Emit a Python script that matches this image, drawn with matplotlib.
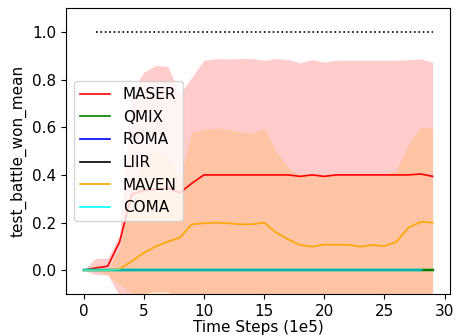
import matplotlib
matplotlib.use("Agg")
import matplotlib.pyplot as plt
import numpy as np

steps = np.arange(30)

# MASER
maser_mean = [0.0, 0.01, 0.017, 0.12, 0.32, 0.335, 0.34, 0.345, 0.325, 0.365,
              0.40, 0.40, 0.40, 0.40, 0.40, 0.40, 0.40, 0.40, 0.394, 0.40,
              0.394, 0.40, 0.40, 0.40, 0.40, 0.40, 0.40, 0.40, 0.404, 0.394]
maser_upper = [0.0, 0.05, 0.05, 0.15, 0.75, 0.83, 0.86, 0.855, 0.74, 0.81,
               0.881, 0.888, 0.886, 0.888, 0.888, 0.881, 0.888, 0.884, 0.870, 0.884,
               0.873, 0.881, 0.881, 0.881, 0.881, 0.881, 0.881, 0.883, 0.887, 0.873]
maser_lower = [0.0, -0.018, -0.018, -0.11, -0.2, -0.097, -0.09, -0.09, -0.12, -0.2,
               -0.2, -0.2, -0.2, -0.2, -0.2, -0.2, -0.2, -0.2, -0.2, -0.2,
               -0.2, -0.2, -0.2, -0.2, -0.2, -0.2, -0.2, -0.2, -0.2, -0.2]

# MAVEN
maven_mean = [0.0, 0.0, 0.0, 0.005, 0.038, 0.073, 0.10, 0.12, 0.137, 0.193,
              0.197, 0.20, 0.197, 0.193, 0.193, 0.20, 0.158, 0.13, 0.106, 0.099,
              0.108, 0.107, 0.107, 0.099, 0.106, 0.102, 0.119, 0.179, 0.203, 0.20]
maven_upper = [0.0, 0.0, 0.005, 0.09, 0.33, 0.47, 0.50, 0.48, 0.38, 0.58,
               0.59, 0.597, 0.592, 0.58, 0.576, 0.595, 0.50, 0.43, 0.40, 0.40,
               0.40, 0.40, 0.40, 0.40, 0.40, 0.40, 0.42, 0.53, 0.60, 0.597]
maven_lower = [0.0, 0.0, -0.02, -0.06, -0.095, -0.3, -0.3, -0.3, -0.3, -0.3,
               -0.3, -0.3, -0.3, -0.3, -0.3, -0.3, -0.3, -0.3, -0.3, -0.3,
               -0.3, -0.3, -0.3, -0.3, -0.3, -0.3, -0.3, -0.3, -0.3, -0.3]

# baselines stuck at zero (qmix runs one step longer)
qmix_mean = [0.0] * 30
roma_mean = [0.0] * 29
liir_mean = [0.0] * 29
coma_mean = [0.0] * 29

target_value = 1.0
target_start, target_end = 1, 29

lw = 1.2

fig, ax = plt.subplots(figsize=(4.56, 3.35), dpi=100)
fig.subplots_adjust(left=0.145, right=0.987, bottom=0.122, top=0.976)

ax.plot(steps, maser_mean, color="red", label="MASER", lw=lw)
ax.fill_between(steps, maser_lower, maser_upper, color="red", alpha=0.2, linewidth=0)
ax.plot(steps[:len(qmix_mean)], qmix_mean, color="green", label="QMIX", lw=lw + 0.6)
ax.plot(steps[:len(roma_mean)], roma_mean, color="blue", label="ROMA", lw=lw)
ax.plot(steps[:len(liir_mean)], liir_mean, color="black", label="LIIR", lw=lw)
ax.plot(steps, maven_mean, color="orange", label="MAVEN", lw=lw)
ax.fill_between(steps, maven_lower, maven_upper, color="orange", alpha=0.2, linewidth=0)
ax.plot(steps[:len(coma_mean)], coma_mean, color="cyan", label="COMA", lw=lw + 0.6, alpha=0.7)

ax.hlines(target_value, target_start, target_end, colors="black", linestyles=":", linewidth=1.2)

ax.set_xlim(-1.45, 30.45)
ax.set_ylim(-0.1, 1.1)
ax.set_xticks([0, 5, 10, 15, 20, 25, 30])
ax.set_yticks([0.0, 0.2, 0.4, 0.6, 0.8, 1.0])
ax.tick_params(labelsize=11)
ax.set_xlabel("Time Steps (1e5)", fontsize=11, labelpad=1)
ax.set_ylabel("test_battle_won_mean", fontsize=11)
leg = ax.legend(loc="center left", fontsize=11)
for line in leg.get_lines():
    line.set_linewidth(lw)
    line.set_alpha(1.0)

fig.savefig("out.png", dpi=100)
